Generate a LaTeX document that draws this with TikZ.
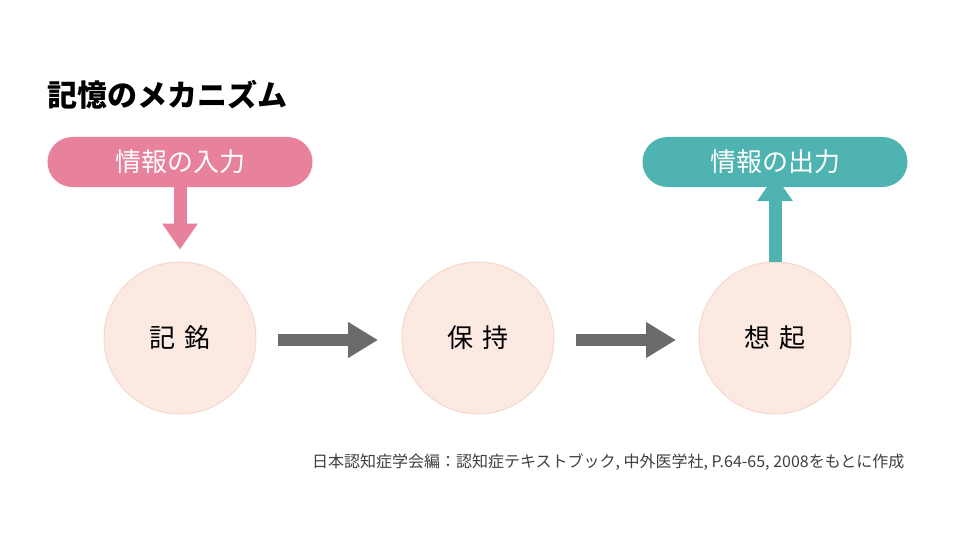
\documentclass[tikz,border=0pt]{standalone}
\usepackage{fontspec}
\setmainfont{Noto Sans CJK JP}
\usetikzlibrary{arrows.meta}
\definecolor{pinkc}{HTML}{E8819B}
\definecolor{tealc}{HTML}{4FB3B1}
\definecolor{circf}{HTML}{FBE9E2}
\definecolor{circd}{HTML}{F4D8CC}
\definecolor{grayar}{HTML}{6B6B6B}
\tikzset{
 pill/.style={rounded corners=25pt,minimum width=265pt,minimum height=50pt,inner sep=0pt,text=white,font=\fontsize{26pt}{28pt}\selectfont},
 stage/.style={circle,minimum size=152pt,fill=circf,draw=circd,line width=1pt,inner sep=0pt,font=\fontsize{26pt}{28pt}\selectfont},
 bigarrow/.style={line width=13pt,-{Triangle[length=26pt,width=34pt]}},
}
\begin{document}
\begin{tikzpicture}[x=1pt,y=-1pt]
\useasboundingbox[fill=white] (0,0) rectangle (960,540);
\node[anchor=west,font=\fontsize{30pt}{32pt}\selectfont\bfseries] (title) at (44,95) {記憶のメカニズム};
\node[pill,fill=pinkc] (in) at (180,162) {情報の入力};
\node[pill,fill=tealc] (out) at (775,162) {情報の出力};
\node[stage] (a) at (180,338) {記\,\,銘};
\node[stage] (b) at (478,338) {保\,\,持};
\node[stage] (c) at (775,338) {想\,\,起};
\draw[bigarrow,pinkc] (in.south) -- ([yshift=12pt]a.north);
\draw[bigarrow,tealc] (c.north) -- ([yshift=12pt]out.south);
\coordinate (a1) at (278,340); \coordinate (a2) at (378,340);
\coordinate (b1) at (576,340); \coordinate (b2) at (676,340);
\draw[bigarrow,grayar,line width=12pt,-{Triangle[length=30pt,width=34pt]}] (a1) -- (a2);
\draw[bigarrow,grayar,line width=12pt,-{Triangle[length=30pt,width=34pt]}] (b1) -- (b2);
\node[anchor=east,text=black!75,font=\fontsize{16pt}{17pt}\selectfont] (src) at (908,462) {日本認知症学会編：認知症テキストブック, 中外医学社, P.64-65, 2008をもとに作成};
\end{tikzpicture}
\end{document}
